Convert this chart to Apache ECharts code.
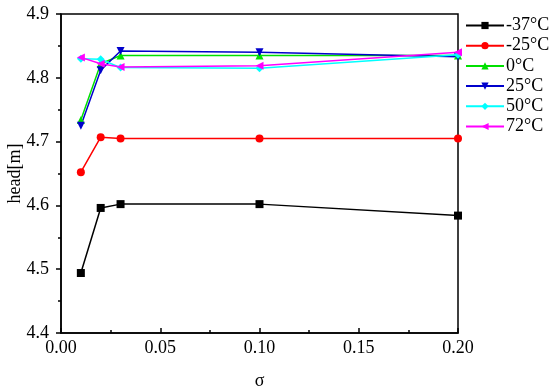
<!DOCTYPE html>
<html><head><meta charset="utf-8">
<script src="https://cdn.jsdelivr.net/npm/echarts@6/dist/echarts.min.js"></script>
<style>html,body{margin:0;padding:0;background:#fff}#c{width:550px;height:392px}</style>
</head><body><div id="c"></div>
<script>
const sigma = [0.01, 0.02, 0.03, 0.10, 0.20];
const seriesNames = ['-37°C', '-25°C', '0°C', '25°C', '50°C', '72°C'];
const tm37 = [4.494, 4.596, 4.602, 4.602, 4.584];
const tm25 = [4.652, 4.707, 4.705, 4.705, 4.705];
const t0 = [4.734, 4.822, 4.835, 4.835, 4.835];
const t25 = [4.725, 4.812, 4.842, 4.840, 4.833];
const t50 = [4.830, 4.829, 4.816, 4.815, 4.836];
const t72 = [4.832, 4.822, 4.817, 4.819, 4.840];

const colors = ['#000000', '#ff0000', '#00e000', '#0000cc', '#00ffff', '#ff00ff'];
const symbols = ['rect', 'circle', 'triangle', 'path://M0,0 L10,0 L5,10 Z', 'diamond', 'path://M0,5 L10,0 L10,10 Z'];
const values = [tm37, tm25, t0, t25, t50, t72];
const font = 'Liberation Serif';

const chart = echarts.init(document.getElementById('c'), null, {renderer: 'canvas'});
chart.setOption({
  animation: false,
  grid: {left: 61, right: 92, top: 14, bottom: 59, show: true, borderColor: '#000', borderWidth: 1.5,
    outerBoundsMode: 'none', containLabel: false},
  legend: {
    left: 460, top: 11.5, orient: 'vertical', itemWidth: 38, itemHeight: 9, itemGap: 2.2,
    textStyle: {fontFamily: font, fontSize: 18, color: '#000', padding: [0,0,0,-3]},
    data: seriesNames
  },
  xAxis: {
    type: 'value', min: 0, max: 0.2, interval: 0.05,
    name: 'σ', nameLocation: 'middle', nameGap: 39, nameMoveOverlap: false,
    nameTextStyle: {fontFamily: font, fontSize: 18, color: '#000'},
    axisLine: {lineStyle: {color: '#000', width: 1.5}},
    axisTick: {inside: true, length: 5, lineStyle: {color: '#000', width: 1.5}},
    minorTick: {show: true, splitNumber: 2, length: 3, lineStyle: {color: '#000', width: 1.5}},
    axisLabel: {fontFamily: font, fontSize: 18, color: '#000', margin: 6,
      formatter: v => v.toFixed(2)},
    splitLine: {show: false}
  },
  yAxis: {
    type: 'value', min: 4.4, max: 4.9, interval: 0.1,
    name: 'head[m]', nameLocation: 'middle', nameGap: 37, nameMoveOverlap: false,
    nameTextStyle: {fontFamily: font, fontSize: 18, color: '#000'},
    axisLine: {lineStyle: {color: '#000', width: 1.5}},
    axisTick: {inside: false, length: 5, lineStyle: {color: '#000', width: 1.5}},
    minorTick: {show: true, splitNumber: 2, length: 3, lineStyle: {color: '#000', width: 1.5}},
    axisLabel: {fontFamily: font, fontSize: 18, color: '#000', margin: 12,
      formatter: v => v.toFixed(1)},
    splitLine: {show: false}
  },
  series: seriesNames.map((n, i) => ({
    name: n, type: 'line',
    data: sigma.map((s, j) => [s, values[i][j]]),
    symbol: symbols[i], symbolSize: 8, showAllSymbol: true,
    lineStyle: {color: colors[i], width: 1.5},
    itemStyle: {color: colors[i]},
    clip: false
  }))
});
</script></body></html>
